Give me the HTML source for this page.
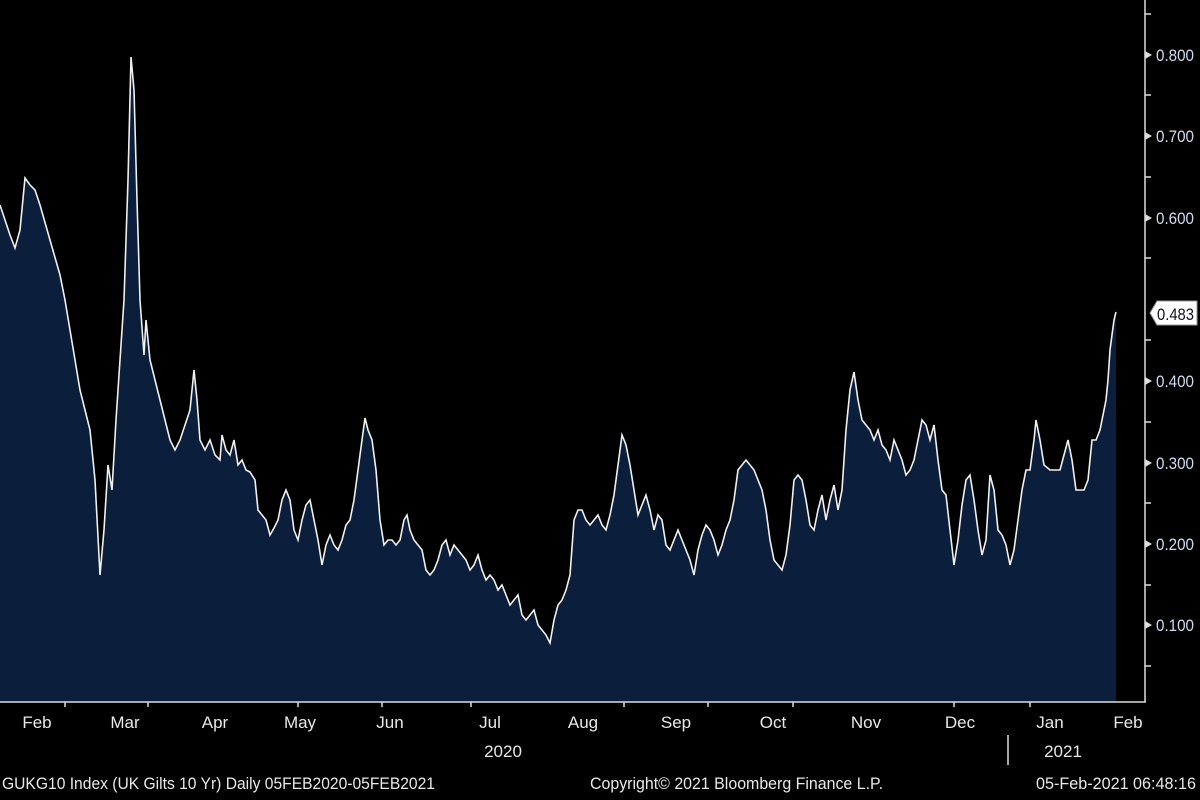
<!DOCTYPE html>
<html><head><meta charset="utf-8"><style>
html,body{margin:0;padding:0;background:#000;width:1200px;height:800px;overflow:hidden}
svg{display:block}
text{font-family:"Liberation Sans",sans-serif}
</style></head><body>
<svg width="1200" height="800" viewBox="0 0 1200 800">
<rect width="1200" height="800" fill="#000"/>
<path d="M0,205 L10,235 15,248 20,230 25,178 30,185 35,190 40,205 50,240 60,275 65,300 70,330 75,360 80,390 85,410 90,430 95,480 100,575 104,530 108,465 112,490 116,420 120,360 124,300 128,180 131,57 134,90 137,200 140,300 144,355 146,320 150,360 155,380 160,400 165,420 170,440 175,450 180,440 185,425 190,410 194,370 197,400 200,440 205,450 210,440 215,455 220,460 222,435 226,450 230,455 234,440 238,465 242,460 246,470 250,472 255,480 258,510 262,515 266,520 270,535 274,528 278,520 282,500 286,490 290,500 294,530 298,540 302,520 306,505 310,500 314,520 318,540 322,565 326,545 330,535 334,545 338,550 342,540 346,525 350,520 354,500 358,470 362,440 365,418 368,430 372,440 376,470 380,520 384,545 388,540 392,540 396,545 400,540 404,520 407,515 410,530 414,540 418,545 422,550 426,570 430,575 434,570 438,560 442,545 446,540 450,555 454,545 458,550 462,555 466,560 470,570 474,565 478,555 482,570 486,580 490,575 494,580 498,590 502,585 506,595 510,605 514,600 518,595 522,615 526,620 530,615 534,610 538,625 542,630 546,635 550,643 554,620 558,605 562,600 566,590 570,575 574,520 578,510 582,510 586,520 590,525 594,520 598,515 602,525 606,530 610,515 614,495 618,465 622,435 626,445 630,465 634,490 638,515 642,505 646,495 650,510 654,530 658,515 662,520 666,545 670,550 674,540 678,530 682,540 686,550 690,560 694,575 698,550 702,535 706,525 710,530 714,540 718,555 722,545 726,530 730,520 734,500 738,470 742,465 746,460 750,465 754,470 758,480 762,490 766,510 770,540 774,560 778,565 782,570 786,555 790,525 794,480 798,475 802,480 806,500 810,525 814,530 818,510 822,495 826,520 830,500 834,485 838,510 842,490 846,430 850,390 854,372 858,400 862,420 866,425 870,430 874,440 878,430 882,445 886,450 890,460 894,440 898,450 902,460 906,475 910,470 914,460 918,440 922,420 926,425 930,440 934,425 938,460 942,490 946,495 950,530 954,565 958,540 962,505 966,480 970,475 974,500 978,530 982,555 986,540 990,475 994,490 998,530 1002,535 1006,545 1010,565 1014,550 1018,520 1022,490 1026,470 1030,470 1034,440 1036,420 1040,440 1044,465 1050,470 1060,470 1064,455 1068,440 1072,460 1076,490 1084,490 1088,480 1092,440 1096,440 1100,430 1104,410 1106,400 1108,380 1110,350 1114,320 1116,312 L1116,702 L0,702 Z" fill="#0b1e3b" stroke="none"/>
<path d="M0,205 L10,235 15,248 20,230 25,178 30,185 35,190 40,205 50,240 60,275 65,300 70,330 75,360 80,390 85,410 90,430 95,480 100,575 104,530 108,465 112,490 116,420 120,360 124,300 128,180 131,57 134,90 137,200 140,300 144,355 146,320 150,360 155,380 160,400 165,420 170,440 175,450 180,440 185,425 190,410 194,370 197,400 200,440 205,450 210,440 215,455 220,460 222,435 226,450 230,455 234,440 238,465 242,460 246,470 250,472 255,480 258,510 262,515 266,520 270,535 274,528 278,520 282,500 286,490 290,500 294,530 298,540 302,520 306,505 310,500 314,520 318,540 322,565 326,545 330,535 334,545 338,550 342,540 346,525 350,520 354,500 358,470 362,440 365,418 368,430 372,440 376,470 380,520 384,545 388,540 392,540 396,545 400,540 404,520 407,515 410,530 414,540 418,545 422,550 426,570 430,575 434,570 438,560 442,545 446,540 450,555 454,545 458,550 462,555 466,560 470,570 474,565 478,555 482,570 486,580 490,575 494,580 498,590 502,585 506,595 510,605 514,600 518,595 522,615 526,620 530,615 534,610 538,625 542,630 546,635 550,643 554,620 558,605 562,600 566,590 570,575 574,520 578,510 582,510 586,520 590,525 594,520 598,515 602,525 606,530 610,515 614,495 618,465 622,435 626,445 630,465 634,490 638,515 642,505 646,495 650,510 654,530 658,515 662,520 666,545 670,550 674,540 678,530 682,540 686,550 690,560 694,575 698,550 702,535 706,525 710,530 714,540 718,555 722,545 726,530 730,520 734,500 738,470 742,465 746,460 750,465 754,470 758,480 762,490 766,510 770,540 774,560 778,565 782,570 786,555 790,525 794,480 798,475 802,480 806,500 810,525 814,530 818,510 822,495 826,520 830,500 834,485 838,510 842,490 846,430 850,390 854,372 858,400 862,420 866,425 870,430 874,440 878,430 882,445 886,450 890,460 894,440 898,450 902,460 906,475 910,470 914,460 918,440 922,420 926,425 930,440 934,425 938,460 942,490 946,495 950,530 954,565 958,540 962,505 966,480 970,475 974,500 978,530 982,555 986,540 990,475 994,490 998,530 1002,535 1006,545 1010,565 1014,550 1018,520 1022,490 1026,470 1030,470 1034,440 1036,420 1040,440 1044,465 1050,470 1060,470 1064,455 1068,440 1072,460 1076,490 1084,490 1088,480 1092,440 1096,440 1100,430 1104,410 1106,400 1108,380 1110,350 1114,320 1116,312" fill="none" stroke="#f0f0f0" stroke-width="1.6"/>
<line x1="0" y1="702" x2="1146" y2="702" stroke="#ddd" stroke-width="1.5"/>
<line x1="1145" y1="0" x2="1145" y2="702" stroke="#ddd" stroke-width="1.5"/>
<g stroke="#ddd" stroke-width="1.5">
<line x1="65" y1="702" x2="65" y2="707"/><line x1="148" y1="702" x2="148" y2="707"/><line x1="298" y1="702" x2="298" y2="707"/><line x1="382" y1="702" x2="382" y2="707"/><line x1="471" y1="702" x2="471" y2="707"/><line x1="624" y1="702" x2="624" y2="707"/><line x1="708" y1="702" x2="708" y2="707"/><line x1="793" y1="702" x2="793" y2="707"/><line x1="954" y1="702" x2="954" y2="707"/><line x1="1030" y1="702" x2="1030" y2="707"/>
<line x1="1008" y1="735" x2="1008" y2="765"/>
<line x1="1145" y1="14" x2="1151" y2="14"/><line x1="1145" y1="95" x2="1151" y2="95"/><line x1="1145" y1="177" x2="1151" y2="177"/><line x1="1145" y1="258" x2="1151" y2="258"/><line x1="1145" y1="340" x2="1151" y2="340"/><line x1="1145" y1="422" x2="1151" y2="422"/><line x1="1145" y1="503" x2="1151" y2="503"/><line x1="1145" y1="585" x2="1151" y2="585"/><line x1="1145" y1="666" x2="1151" y2="666"/>
</g>
<g fill="#ddd">
<path d="M1145,51 l7,4 l-7,4z"/><path d="M1145,132 l7,4 l-7,4z"/><path d="M1145,214 l7,4 l-7,4z"/><path d="M1145,377 l7,4 l-7,4z"/><path d="M1145,459 l7,4 l-7,4z"/><path d="M1145,540 l7,4 l-7,4z"/><path d="M1145,621 l7,4 l-7,4z"/>
</g>
<g font-size="17" style="fill:#cfdcf0">
<text x="1156" y="61" textLength="38" lengthAdjust="spacingAndGlyphs">0.800</text><text x="1156" y="142" textLength="38" lengthAdjust="spacingAndGlyphs">0.700</text><text x="1156" y="224" textLength="38" lengthAdjust="spacingAndGlyphs">0.600</text><text x="1156" y="387" textLength="38" lengthAdjust="spacingAndGlyphs">0.400</text><text x="1156" y="469" textLength="38" lengthAdjust="spacingAndGlyphs">0.300</text><text x="1156" y="550" textLength="38" lengthAdjust="spacingAndGlyphs">0.200</text><text x="1156" y="631" textLength="38" lengthAdjust="spacingAndGlyphs">0.100</text>
</g>
<path d="M1157,301 L1197,301 L1197,325 L1157,325 L1150,313 Z" fill="#fff" stroke="#999"/>
<text x="1157" y="320" font-size="17" style="fill:#112" textLength="37" lengthAdjust="spacingAndGlyphs">0.483</text>
<g font-size="17" text-anchor="middle" style="fill:#e8e8e8">
<text x="37" y="728">Feb</text><text x="125" y="728">Mar</text><text x="215" y="728">Apr</text><text x="300" y="728">May</text><text x="390" y="728">Jun</text><text x="490" y="728">Jul</text><text x="583" y="728">Aug</text><text x="676" y="728">Sep</text><text x="773" y="728">Oct</text><text x="866" y="728">Nov</text><text x="960" y="728">Dec</text><text x="1050" y="728">Jan</text><text x="1128" y="728">Feb</text>
<text x="503" y="757">2020</text><text x="1063" y="757">2021</text>
</g>
<g font-size="17" style="fill:#e8e8e8">
<text x="2" y="789" textLength="433" lengthAdjust="spacingAndGlyphs">GUKG10 Index (UK Gilts 10 Yr)  Daily 05FEB2020-05FEB2021</text>
<text x="590" y="789" textLength="293" lengthAdjust="spacingAndGlyphs">Copyright© 2021 Bloomberg Finance L.P.</text>
<text x="1036" y="789" textLength="160" lengthAdjust="spacingAndGlyphs">05-Feb-2021 06:48:16</text>
</g>
</svg>
</body></html>
